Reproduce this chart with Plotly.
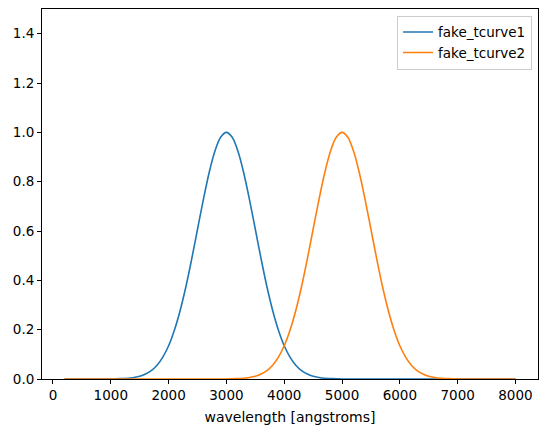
import plotly.graph_objects as go

# wavelength grid [angstroms] and transmission
wavelength = [200, 600, 1000, 1100, 1200, 1300, 1400, 1500, 1600, 1700, 1800, 1900,
              2000, 2100, 2200, 2300, 2400, 2500, 2600, 2700, 2800, 2900,
              3000, 3100, 3200, 3300, 3400, 3500, 3600, 3700, 3800, 3900,
              4000, 4100, 4200, 4300, 4400, 4500, 4600, 4700, 4800, 4900,
              5000, 5100, 5200, 5300, 5400, 5500, 5600, 5700, 5800, 5900,
              6000, 6100, 6200, 6300, 6400, 6500, 6600, 6700, 6800, 6900,
              7000, 7400, 8000]
tcurve1 = [0.0, 0.0, 0.0, 0.001, 0.002, 0.003, 0.006, 0.011, 0.020, 0.034, 0.056, 0.089,
           0.135, 0.198, 0.278, 0.375, 0.487, 0.607, 0.726, 0.835, 0.923, 0.980,
           1.0, 0.980, 0.923, 0.835, 0.726, 0.607, 0.487, 0.375, 0.278, 0.198,
           0.135, 0.089, 0.056, 0.034, 0.020, 0.011, 0.006, 0.003, 0.002, 0.001,
           0.0, 0.0, 0.0, 0.0, 0.0, 0.0, 0.0, 0.0, 0.0, 0.0,
           0.0, 0.0, 0.0, 0.0, 0.0, 0.0, 0.0, 0.0, 0.0, 0.0,
           0.0, 0.0, 0.0]
tcurve2 = [0.0, 0.0, 0.0, 0.0, 0.0, 0.0, 0.0, 0.0, 0.0, 0.0, 0.0, 0.0,
           0.0, 0.0, 0.0, 0.0, 0.0, 0.0, 0.0, 0.0, 0.0, 0.0,
           0.0, 0.001, 0.002, 0.003, 0.006, 0.011, 0.020, 0.034, 0.056, 0.089,
           0.135, 0.198, 0.278, 0.375, 0.487, 0.607, 0.726, 0.835, 0.923, 0.980,
           1.0, 0.980, 0.923, 0.835, 0.726, 0.607, 0.487, 0.375, 0.278, 0.198,
           0.135, 0.089, 0.056, 0.034, 0.020, 0.011, 0.006, 0.003, 0.002, 0.001,
           0.0, 0.0, 0.0]

names = ["fake_tcurve1", "fake_tcurve2"]
colors = ["#1f77b4", "#ff7f0e"]

fig = go.Figure()
for name, ys, col in zip(names, [tcurve1, tcurve2], colors):
    fig.add_trace(
        go.Scatter(
            x=wavelength,
            y=ys,
            mode="lines",
            line={"color": col, "width": 1.6, "shape": "spline", "smoothing": 1.0},
            name=name,
        )
    )

axis_common = dict(
    showgrid=False,
    zeroline=False,
    showline=True,
    linecolor="black",
    linewidth=1,
    mirror=True,
    ticks="outside",
    ticklen=4,
    tickcolor="black",
    tickfont={"size": 13.5, "color": "black"},
    automargin=False,
)

# the page body adds an 8px offset, so margins are shifted to land the axes box
# where the reference has it
fig.update_layout(
    width=547,
    height=432,
    margin={"l": 34, "r": 17, "t": 1, "b": 61},
    plot_bgcolor="white",
    paper_bgcolor="white",
    font={"family": "DejaVu Sans", "size": 13.5, "color": "black"},
    xaxis=dict(
        axis_common,
        range=[-190, 8390],
        tickvals=[0, 1000, 2000, 3000, 4000, 5000, 6000, 7000, 8000],
        title={"text": "wavelength [angstroms]", "font": {"size": 14}, "standoff": 9},
    ),
    yaxis=dict(
        axis_common,
        range=[0, 1.5],
        tickvals=[0.0, 0.2, 0.4, 0.6, 0.8, 1.0, 1.2, 1.4],
        ticktext=["0.0", "0.2", "0.4", "0.6", "0.8", "1.0", "1.2", "1.4"],
    ),
    legend={
        "x": 0.988,
        "y": 0.982,
        "xanchor": "right",
        "yanchor": "top",
        "bgcolor": "rgba(255,255,255,0.8)",
        "bordercolor": "#cccccc",
        "borderwidth": 1,
        "font": {"size": 13.5},
    },
)

fig.write_html("out.html")
